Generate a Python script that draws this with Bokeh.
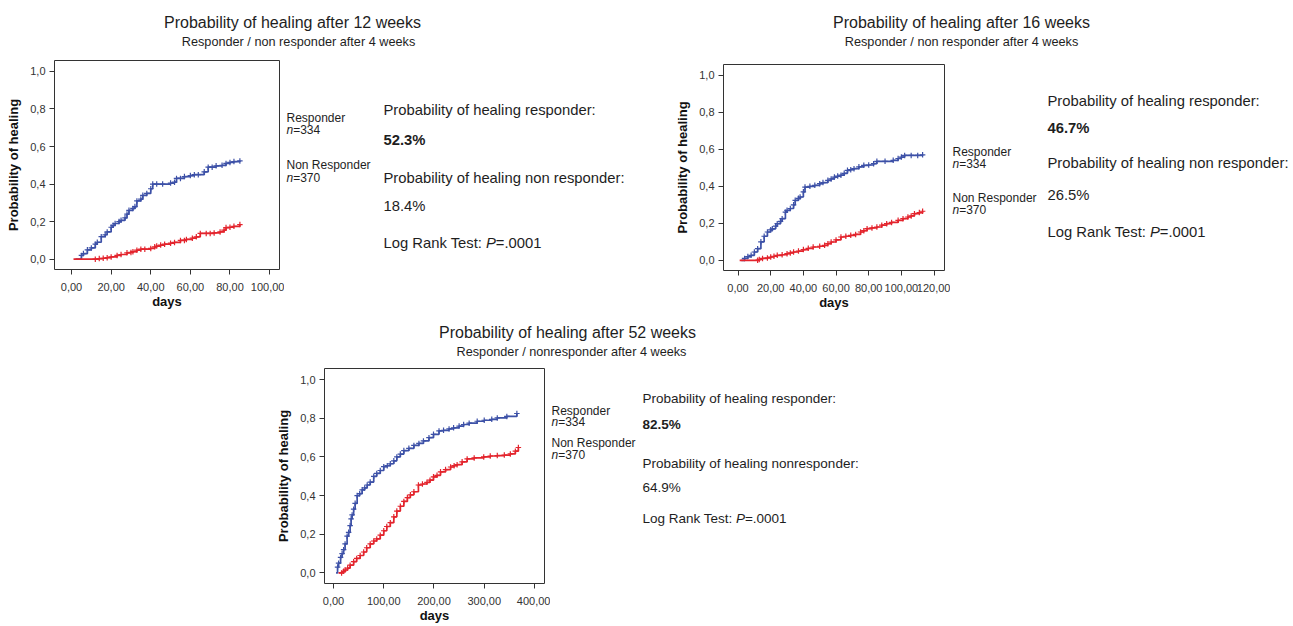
from bokeh.plotting import figure
from bokeh.models import Range1d, FixedTicker, Spacer
from bokeh.layouts import row, column
from bokeh.core.properties import value
from bokeh.embed import file_html
from bokeh.resources import INLINE

FONT = "Liberation Sans"
BLUE = "#3d51a7"
RED = "#e3242d"
INK = "#1e1e1e"
AXC = "#333333"

# ---------------- data ----------------
y_ticks = [0.0, 0.2, 0.4, 0.6, 0.8, 1.0]
y_tick_labels = ["0,0", "0,2", "0,4", "0,6", "0,8", "1,0"]

x_ticks_12 = [0, 20, 40, 60, 80, 100]
x_tick_labels_12 = ["0,00", "20,00", "40,00", "60,00", "80,00", "100,00"]
x_ticks_16 = [0, 20, 40, 60, 80, 100, 120]
x_tick_labels_16 = ["0,00", "20,00", "40,00", "60,00", "80,00", "100,00", "120,00"]
x_ticks_52 = [0, 100, 200, 300, 400]
x_tick_labels_52 = ["0,00", "100,00", "200,00", "300,00", "400,00"]

# 12 weeks
days_12_resp = [2, 5, 6, 8, 10, 12, 13, 15, 17, 18, 20, 21, 22, 24, 25, 27, 28, 29, 31, 32,
                33, 35, 36, 38, 40, 41, 43, 46, 50, 52, 53, 55, 57, 60, 62, 64, 67, 69, 71, 73,
                76, 78, 80, 82, 85]
prob_12_resp = [0.0, 0.02, 0.03, 0.05, 0.06, 0.08, 0.09, 0.12, 0.13, 0.145, 0.17, 0.18, 0.19, 0.20,
                0.207, 0.22, 0.24, 0.26, 0.27, 0.28, 0.31, 0.32, 0.34, 0.35, 0.375, 0.40, 0.40, 0.40,
                0.405, 0.41, 0.43, 0.43, 0.44, 0.445, 0.45, 0.45, 0.465, 0.49, 0.49, 0.497, 0.50,
                0.51, 0.515, 0.52, 0.523]
days_12_non = [1, 12, 14, 16, 18, 20, 23, 25, 28, 30, 31, 33, 35, 37, 40, 42, 43, 45, 47, 50,
               52, 55, 57, 58, 61, 63, 65, 68, 70, 72, 75, 77, 78, 80, 82, 85]
prob_12_non = [0.0, 0.0, 0.003, 0.005, 0.008, 0.012, 0.02, 0.025, 0.034, 0.036, 0.04, 0.048, 0.053,
               0.053, 0.057, 0.066, 0.07, 0.075, 0.08, 0.085, 0.089, 0.10, 0.10, 0.105, 0.112, 0.119,
               0.137, 0.137, 0.137, 0.14, 0.145, 0.155, 0.168, 0.17, 0.175, 0.184]

# 16 weeks
days_16_resp = [2, 4, 6, 8, 10, 12, 14, 16, 18, 20, 21, 23, 24, 26, 27, 29, 30, 32, 34, 35,
                37, 38, 40, 41, 44, 47, 50, 52, 55, 57, 59, 61, 63, 65, 67, 69, 71, 74, 77, 80,
                83, 85, 90, 95, 98, 100, 102, 106, 110, 113]
prob_16_resp = [0.0, 0.01, 0.02, 0.027, 0.045, 0.063, 0.10, 0.13, 0.153, 0.165, 0.17, 0.185, 0.198,
                0.21, 0.225, 0.26, 0.27, 0.28, 0.30, 0.324, 0.335, 0.342, 0.37, 0.396, 0.40, 0.405,
                0.414, 0.42, 0.432, 0.44, 0.45, 0.455, 0.46, 0.47, 0.486, 0.49, 0.495, 0.505, 0.513,
                0.515, 0.522, 0.535, 0.535, 0.54, 0.55, 0.558, 0.567, 0.567, 0.567, 0.57]
days_16_non = [1, 12, 13, 15, 18, 20, 22, 24, 27, 30, 32, 34, 37, 40, 43, 46, 50, 53, 55, 57,
               60, 63, 66, 69, 72, 75, 77, 79, 82, 85, 88, 91, 94, 98, 101, 104, 106, 108, 111, 113]
prob_16_non = [0.0, 0.0, 0.005, 0.01, 0.013, 0.018, 0.022, 0.027, 0.03, 0.036, 0.04, 0.045, 0.05,
               0.058, 0.065, 0.072, 0.076, 0.081, 0.09, 0.099, 0.11, 0.126, 0.13, 0.135, 0.14, 0.153,
               0.16, 0.171, 0.175, 0.18, 0.19, 0.198, 0.205, 0.216, 0.225, 0.234, 0.24, 0.252,
               0.258, 0.265]

# 52 weeks
days_52_resp = [5, 8, 10, 14, 17, 20, 23, 27, 30, 33, 35, 37, 40, 43, 47, 52, 57, 62, 67, 73,
                80, 86, 93, 100, 107, 113, 120, 126, 133, 140, 150, 160, 170, 179, 190, 199, 210,
                219, 230, 239, 250, 259, 270, 286, 300, 315, 326, 345, 365]
prob_52_resp = [0.0, 0.03, 0.05, 0.08, 0.10, 0.12, 0.15, 0.19, 0.21, 0.245, 0.28, 0.30, 0.33, 0.36,
                0.40, 0.41, 0.43, 0.44, 0.455, 0.47, 0.50, 0.515, 0.53, 0.55, 0.555, 0.565, 0.58,
                0.60, 0.615, 0.633, 0.645, 0.66, 0.67, 0.683, 0.70, 0.717, 0.735, 0.738, 0.745,
                0.751, 0.76, 0.768, 0.775, 0.785, 0.79, 0.795, 0.802, 0.81, 0.825]
days_52_non = [10, 16, 20, 23, 28, 33, 40, 46, 53, 60, 66, 73, 80, 86, 93, 100, 106, 113, 120, 126,
               133, 140, 147, 153, 160, 169, 177, 186, 192, 199, 206, 213, 223, 233, 240, 246, 256,
               266, 280, 299, 312, 326, 340, 352, 362, 368]
prob_52_non = [0.0, 0.0, 0.008, 0.015, 0.025, 0.04, 0.058, 0.075, 0.09, 0.108, 0.13, 0.15, 0.165,
               0.176, 0.195, 0.218, 0.24, 0.26, 0.29, 0.32, 0.345, 0.37, 0.39, 0.404, 0.42, 0.455,
               0.46, 0.469, 0.48, 0.497, 0.505, 0.523, 0.535, 0.548, 0.555, 0.56, 0.575, 0.59,
               0.595, 0.60, 0.605, 0.607, 0.61, 0.616, 0.63, 0.649]

titles = ["Probability of healing after 12 weeks", "Probability of healing after 16 weeks",
          "Probability of healing after 52 weeks"]
subtitles = ["Responder / non responder after 4 weeks", "Responder / non responder after 4 weeks",
             "Responder / nonresponder after 4 weeks"]
resp_pct = ["52.3%", "46.7%", "82.5%"]
non_pct = ["18.4%", "26.5%", "64.9%"]
non_heads = ["Probability of healing non responder:", "Probability of healing non responder:",
             "Probability of healing nonresponder:"]
n_resp = "=334"
n_non = "=370"
p_value = "=.0001"


# ---------------- helpers ----------------
def km_plot(width, height, borders, xr, xticks, xlabels, curves):
    l, r, t, b = borders
    p = figure(width=width, height=height, x_range=Range1d(*xr), y_range=Range1d(-0.055, 1.058),
               output_backend="svg", toolbar_location=None,
               min_border_left=l, min_border_right=r, min_border_top=t, min_border_bottom=b,
               x_axis_label="days", y_axis_label="Probability of healing")
    p.xgrid.visible = False
    p.ygrid.visible = False
    p.outline_line_color = AXC
    p.outline_line_width = 1
    p.background_fill_color = "white"
    p.border_fill_color = "white"
    p.xaxis.ticker = FixedTicker(ticks=xticks)
    p.xaxis.major_label_overrides = {k: v for k, v in zip(xticks, xlabels)}
    p.yaxis.ticker = FixedTicker(ticks=y_ticks)
    p.yaxis.major_label_overrides = {k: v for k, v in zip(y_ticks, y_tick_labels)}
    for ax in (p.xaxis[0], p.yaxis[0]):
        ax.axis_line_color = None
        ax.major_tick_out = 5
        ax.major_tick_in = 0
        ax.minor_tick_out = 0
        ax.minor_tick_in = 0
        ax.major_tick_line_color = AXC
        ax.major_label_text_font = FONT
        ax.major_label_text_font_size = "11px"
        ax.major_label_text_color = "#333333"
        ax.axis_label_text_font = FONT
        ax.axis_label_text_font_size = "13px"
        ax.axis_label_text_font_style = "bold"
        ax.axis_label_text_color = "#111111"
    p.xaxis.major_label_standoff = 8
    p.xaxis.axis_label_standoff = 0
    p.yaxis.major_label_standoff = 4
    p.yaxis.axis_label_standoff = 6
    for d, pr, col in curves:
        p.step(x=d, y=pr, mode="after", line_color=col, line_width=1.7)
        p.scatter(x=d[1:], y=pr[1:], marker="cross", size=5.5, line_color=col, line_width=1.2)
    return p


def canvas(x0, x1, y0, y1, top=0, bottom=0):
    # page-pixel coordinate canvas; the frame spans y0+top .. y1-bottom
    p = figure(width=x1 - x0, height=y1 - y0, x_range=Range1d(x0, x1),
               y_range=Range1d(y1 - bottom, y0 + top),
               output_backend="svg", toolbar_location=None, min_border=0,
               min_border_top=top, min_border_bottom=bottom,
               x_axis_type=None, y_axis_type=None)
    p.outline_line_color = None
    p.background_fill_color = "white"
    p.border_fill_color = "white"
    return p


def put(p, x, y, txt, size, style="normal", align="left"):
    p.text(x=[x], y=[y], text=[txt], text_font=value(FONT), text_font_size=value(size),
           text_font_style=value(style), text_align=value(align), text_baseline=value("middle"),
           text_color=INK)


def legend_block(p, x, y1, y2, y3, y4):
    put(p, x, y1, "Responder", "12px")
    put(p, x, y2, "n", "12px", "italic")
    put(p, x + 0.556 * 12, y2, n_resp, "12px")
    put(p, x, y3, "Non Responder", "12px")
    put(p, x, y4, "n", "12px", "italic")
    put(p, x + 0.556 * 12, y4, n_non, "12px")


def stats_block(p, x, ys, f, i):
    fs = "%.1fpx" % f
    put(p, x, ys[0], "Probability of healing responder:", fs)
    put(p, x, ys[1], resp_pct[i], fs, "bold")
    put(p, x, ys[2], non_heads[i], fs)
    put(p, x, ys[3], non_pct[i], fs)
    put(p, x, ys[4], "Log Rank Test:", fs)
    put(p, x + 6.92 * f, ys[4], "P", fs, "italic")
    put(p, x + 7.59 * f, ys[4], p_value, fs)


# ---------------- panel A (12 weeks) ----------------
tA = canvas(0, 670, 0, 58)
put(tA, 292, 22, titles[0], "16px", align="center")
put(tA, 298, 41, subtitles[0], "12.7px", align="center")
pA = km_plot(284, 260, (54, 5, 2, 49), (-8.6, 105), x_ticks_12, x_tick_labels_12,
             [(days_12_resp, prob_12_resp, BLUE), (days_12_non, prob_12_non, RED)])
xA = canvas(284, 670, 58, 318, top=2, bottom=49)
legend_block(xA, 286, 117, 129.5, 164, 177)
stats_block(xA, 383, [109.5, 139, 177, 205, 242.5], 14.8, 0)
panelA = column(tA, row(pA, xA))

# ---------------- panel B (16 weeks) ----------------
tB = canvas(670, 1292, 0, 58)
put(tB, 961, 22, titles[1], "16px", align="center")
put(tB, 961, 41, subtitles[1], "12.7px", align="center")
pB = km_plot(280, 260, (53, 6, 6, 48), (-8.9, 126.4), x_ticks_16, x_tick_labels_16,
             [(days_16_resp, prob_16_resp, BLUE), (days_16_non, prob_16_non, RED)])
xB = canvas(950, 1292, 58, 318, top=6, bottom=48)
legend_block(xB, 952, 151, 163, 197.5, 209)
stats_block(xB, 1047, [100, 127.5, 162, 194, 231], 14.8, 1)
panelB = column(tB, row(pB, xB))

# ---------------- panel C (52 weeks) ----------------
tC = canvas(270, 1292, 318, 362)
put(tC, 567, 332, titles[2], "16px", align="center")
put(tC, 571, 351, subtitles[2], "12.7px", align="center")
pC = km_plot(280, 263, (54, 6, 6, 37), (-18, 420), x_ticks_52, x_tick_labels_52,
             [(days_52_resp, prob_52_resp, BLUE), (days_52_non, prob_52_non, RED)])
xC = canvas(550, 1292, 362, 625, top=6, bottom=37)
legend_block(xC, 551, 411, 422.5, 444.5, 456.5)
stats_block(xC, 642, [398.5, 425, 465, 490, 521], 13.5, 2)
panelC = column(tC, row(pC, xC))

layout = column(row(panelA, panelB), row(Spacer(width=270, height=307), panelC))

open("out.html", "w").write(file_html(layout, INLINE))
